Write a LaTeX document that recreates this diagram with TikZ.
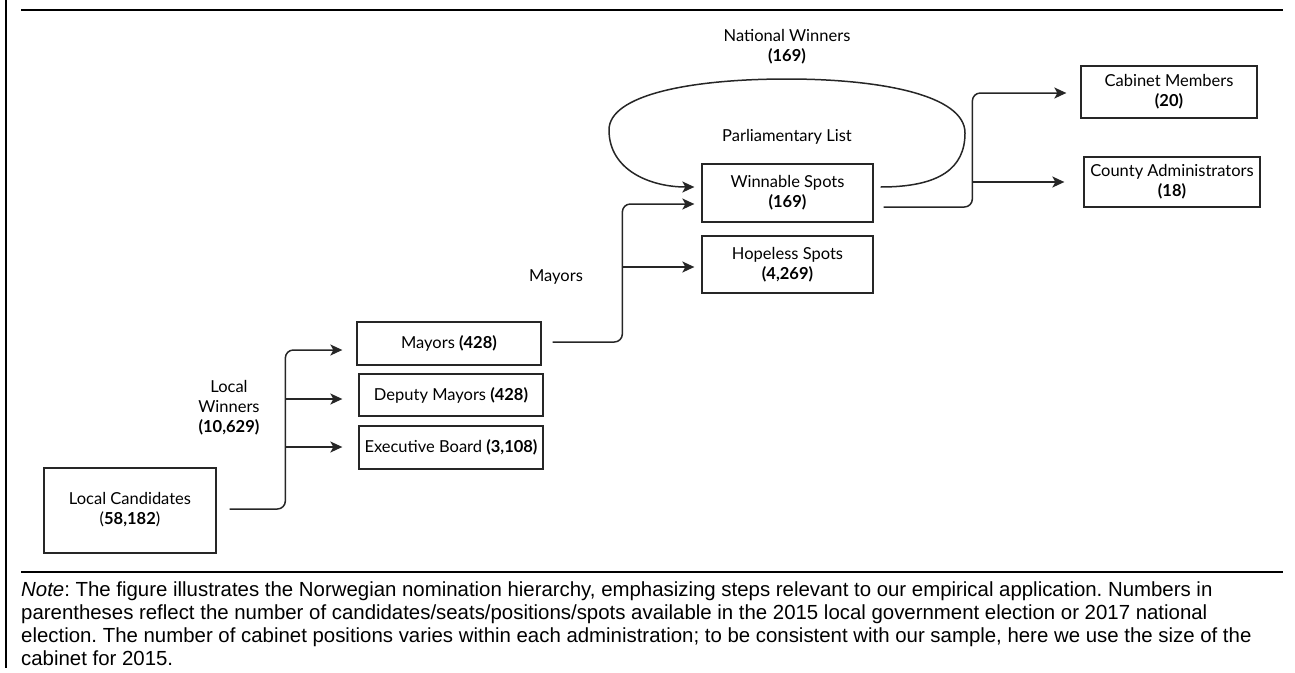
\documentclass[tikz,border=0pt]{standalone}
\usepackage{fontspec}
\setmainfont{Lato}
\newfontfamily\notefont{Liberation Sans}
\usetikzlibrary{arrows.meta,calc}
\tikzset{
  box/.style={draw=black!85, line width=1.3pt, inner sep=0pt, align=center,
    font=\fontsize{16.5}{20}\selectfont},
  conn/.style={draw=black!85, line width=1.5pt, rounded corners=8pt},
  tip/.style={-{Stealth[length=12pt,width=11pt,inset=3pt]}},
  lbl/.style={align=center, inner sep=0pt, font=\fontsize{16.5}{20}\selectfont},
}
\begin{document}
\begin{tikzpicture}[x=1pt,y=-1pt]
\useasboundingbox (0,0) rectangle (1295,672);
% frame
\draw[line width=2.2pt] (6,0) -- (6,668);
\draw[line width=2.2pt] (21,10) -- (1283,10);
\draw[line width=2.2pt] (21,572) -- (1283,572);
% boxes
\node[box, minimum width=172pt, minimum height=85pt] (lc) at (130,510.5) {\raisebox{-2pt}{\begin{tabular}{@{}c@{}}Local Candidates\\(\textbf{58,182})\end{tabular}}};
\node[box, minimum width=184pt, minimum height=43pt] (mayors) at (449,343.5) {Mayors \textbf{(428)}};
\node[box, minimum width=184pt, minimum height=42pt] (deputy) at (451,395) {Deputy Mayors \textbf{(428)}};
\node[box, minimum width=184pt, minimum height=43pt] (exec) at (451,447.5) {Executive Board \textbf{(3,108)}};
\node[box, minimum width=171pt, minimum height=58pt] (winnable) at (787.5,193) {Winnable Spots\\\textbf{(169)}};
\node[box, minimum width=171pt, minimum height=57pt] (hopeless) at (787.5,264.5) {Hopeless Spots\\\textbf{(4,269)}};
\node[box, minimum width=176pt, minimum height=52pt] (cabinet) at (1169,92) {Cabinet Members\\\textbf{(20)}};
\node[box, minimum width=176pt, minimum height=50pt] (county) at (1172,182) {County Administrators\\\textbf{(18)}};
% labels
\node[lbl] (lw) at (229,408) {Local\\Winners\\\textbf{(10,629)}};
\node[lbl] (ml) at (556,277) {Mayors};
\node[lbl] (pl) at (787,137) {Parliamentary List};
\node[lbl] (nw) at (787,47) {National Winners\\\textbf{(169)}};
% connectors: local candidates
\draw[conn,tip] ($(lc.east)+(13,-1.5)$) -| ($(mayors.west)+(-71,6.5)$) -- ($(mayors.west)+(-14,6.5)$);
\draw[conn,tip] ($(deputy.west)+(-73,4)$) -- ($(deputy.west)+(-16,4)$);
\draw[conn,tip] ($(exec.west)+(-73,-0.5)$) -- ($(exec.west)+(-16,-0.5)$);
% mayors
\draw[conn,tip] ($(mayors.east)+(11,-1.5)$) -| ($(winnable.west)+(-79,11)$) -- ($(winnable.west)+(-7,11)$);
\draw[conn,tip] ($(hopeless.west)+(-79,2.5)$) -- ($(hopeless.west)+(-7,2.5)$);
% loop
\draw[conn,tip,rounded corners=0pt] ($(winnable.east)+(7,-6)$)
  .. controls (940,187) and (965,168) .. (965,133)
  .. controls (965,95) and (880,79) .. (787,79)
  .. controls (690,79) and (609,95) .. (609,130)
  .. controls (609,170) and (650,187) .. ($(winnable.west)+(-7,-6)$);
% winnable spots
\draw[conn,tip] ($(winnable.east)+(10,14)$) -| ($(cabinet.west)+(-108,1)$) -- ($(cabinet.west)+(-14,1)$);
\draw[conn,tip] ($(county.west)+(-111,0)$) -- ($(county.west)+(-19,0)$);
% note
\node[anchor=north west, align=left, inner sep=0pt, font=\notefont\frenchspacing\fontsize{20.4}{23}\selectfont] (note) at (21,582) {\textit{Note}: The figure illustrates the Norwegian nomination hierarchy, emphasizing steps relevant to our empirical application. Numbers in\\
parentheses reflect the number of candidates/seats/positions/spots available in the 2015 local government election or 2017 national\\
election. The number of cabinet positions varies within each administration; to be consistent with our sample, here we use the size of the\\
cabinet for 2015.};
\end{tikzpicture}
\end{document}
